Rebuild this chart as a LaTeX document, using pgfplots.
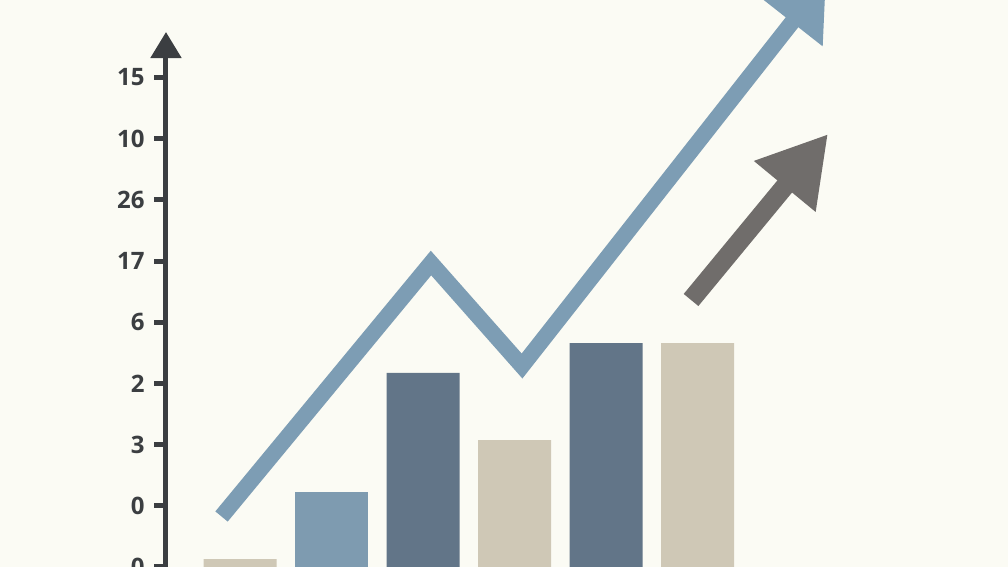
\documentclass[border=0pt]{standalone}
\usepackage{pgfplots}
\pgfplotsset{compat=1.18}
\usepackage{fontspec}
\setmainfont{Open Sans}
\usetikzlibrary{arrows.meta}
\definecolor{bg}{HTML}{FBFBF4}
\definecolor{axc}{HTML}{3B3E41}
\definecolor{tanc}{HTML}{CFC8B6}
\definecolor{lblue}{HTML}{7E9BB0}
\definecolor{dblue}{HTML}{627588}
\definecolor{linec}{HTML}{7D9DB4}
\definecolor{grayc}{HTML}{706D6B}
\begin{document}
\begin{tikzpicture}
\begin{axis}[
  name=ax,
  width=1008pt, height=567pt, scale only axis,
  xmin=-1.814, xmax=9.202, ymin=0, ymax=9.265,
  axis x line=none, axis y line=middle,
  y axis line style={draw=none},
  hide obscured y ticks=false,
  ytick={0,1,2,3,4,5,6,7,8},
  yticklabels={0,0,3,2,6,17,26,10,15},
  ytick align=outside, major tick length=12pt,
  ytick style={draw=none},
  yticklabel style={font=\bfseries\fontsize{24}{28}\selectfont, text=axc, xshift=-6pt},
  axis background/.style={fill=bg},
  clip=true,
]
% bars
\addplot[ybar, bar shift=0pt, bar width=73pt, fill=tanc, draw=none]
  coordinates {(0.81,0.13) (3.81,2.075) (5.81,3.66)};
\addplot[ybar, bar shift=0pt, bar width=73pt, fill=lblue, draw=none]
  coordinates {(1.81,1.225)};
\addplot[ybar, bar shift=0pt, bar width=73pt, fill=dblue, draw=none]
  coordinates {(2.81,3.17) (4.81,3.66)};
% trend line with arrow
\addplot[linec, line width=16pt, line cap=butt, line join=miter,
  -{Triangle[width=74pt,length=55pt]}]
  coordinates {(0.607,0.825) (2.896,4.967) (3.891,3.284) (7.213,9.608)};
% gray arrow
\addplot[grayc, line width=19pt, line cap=butt,
  -{Triangle[width=75pt,length=68pt]}]
  coordinates {(5.738,4.363) (7.235,7.075)};
% tick marks
\addplot[xcomb, axc, line width=5pt, mark=none]
  coordinates {(-0.13,0) (-0.13,1) (-0.13,2) (-0.13,3) (-0.13,4) (-0.13,5) (-0.13,6) (-0.13,7) (-0.13,8)};
% y axis line
\addplot[axc, line width=5pt, line cap=butt,
  -{Triangle[width=30pt,length=26pt]}]
  coordinates {(0,-0.5) (0,8.742)};
\end{axis}
\pgfresetboundingbox
\useasboundingbox (ax.south west) rectangle (ax.north east);
\end{tikzpicture}
\end{document}
